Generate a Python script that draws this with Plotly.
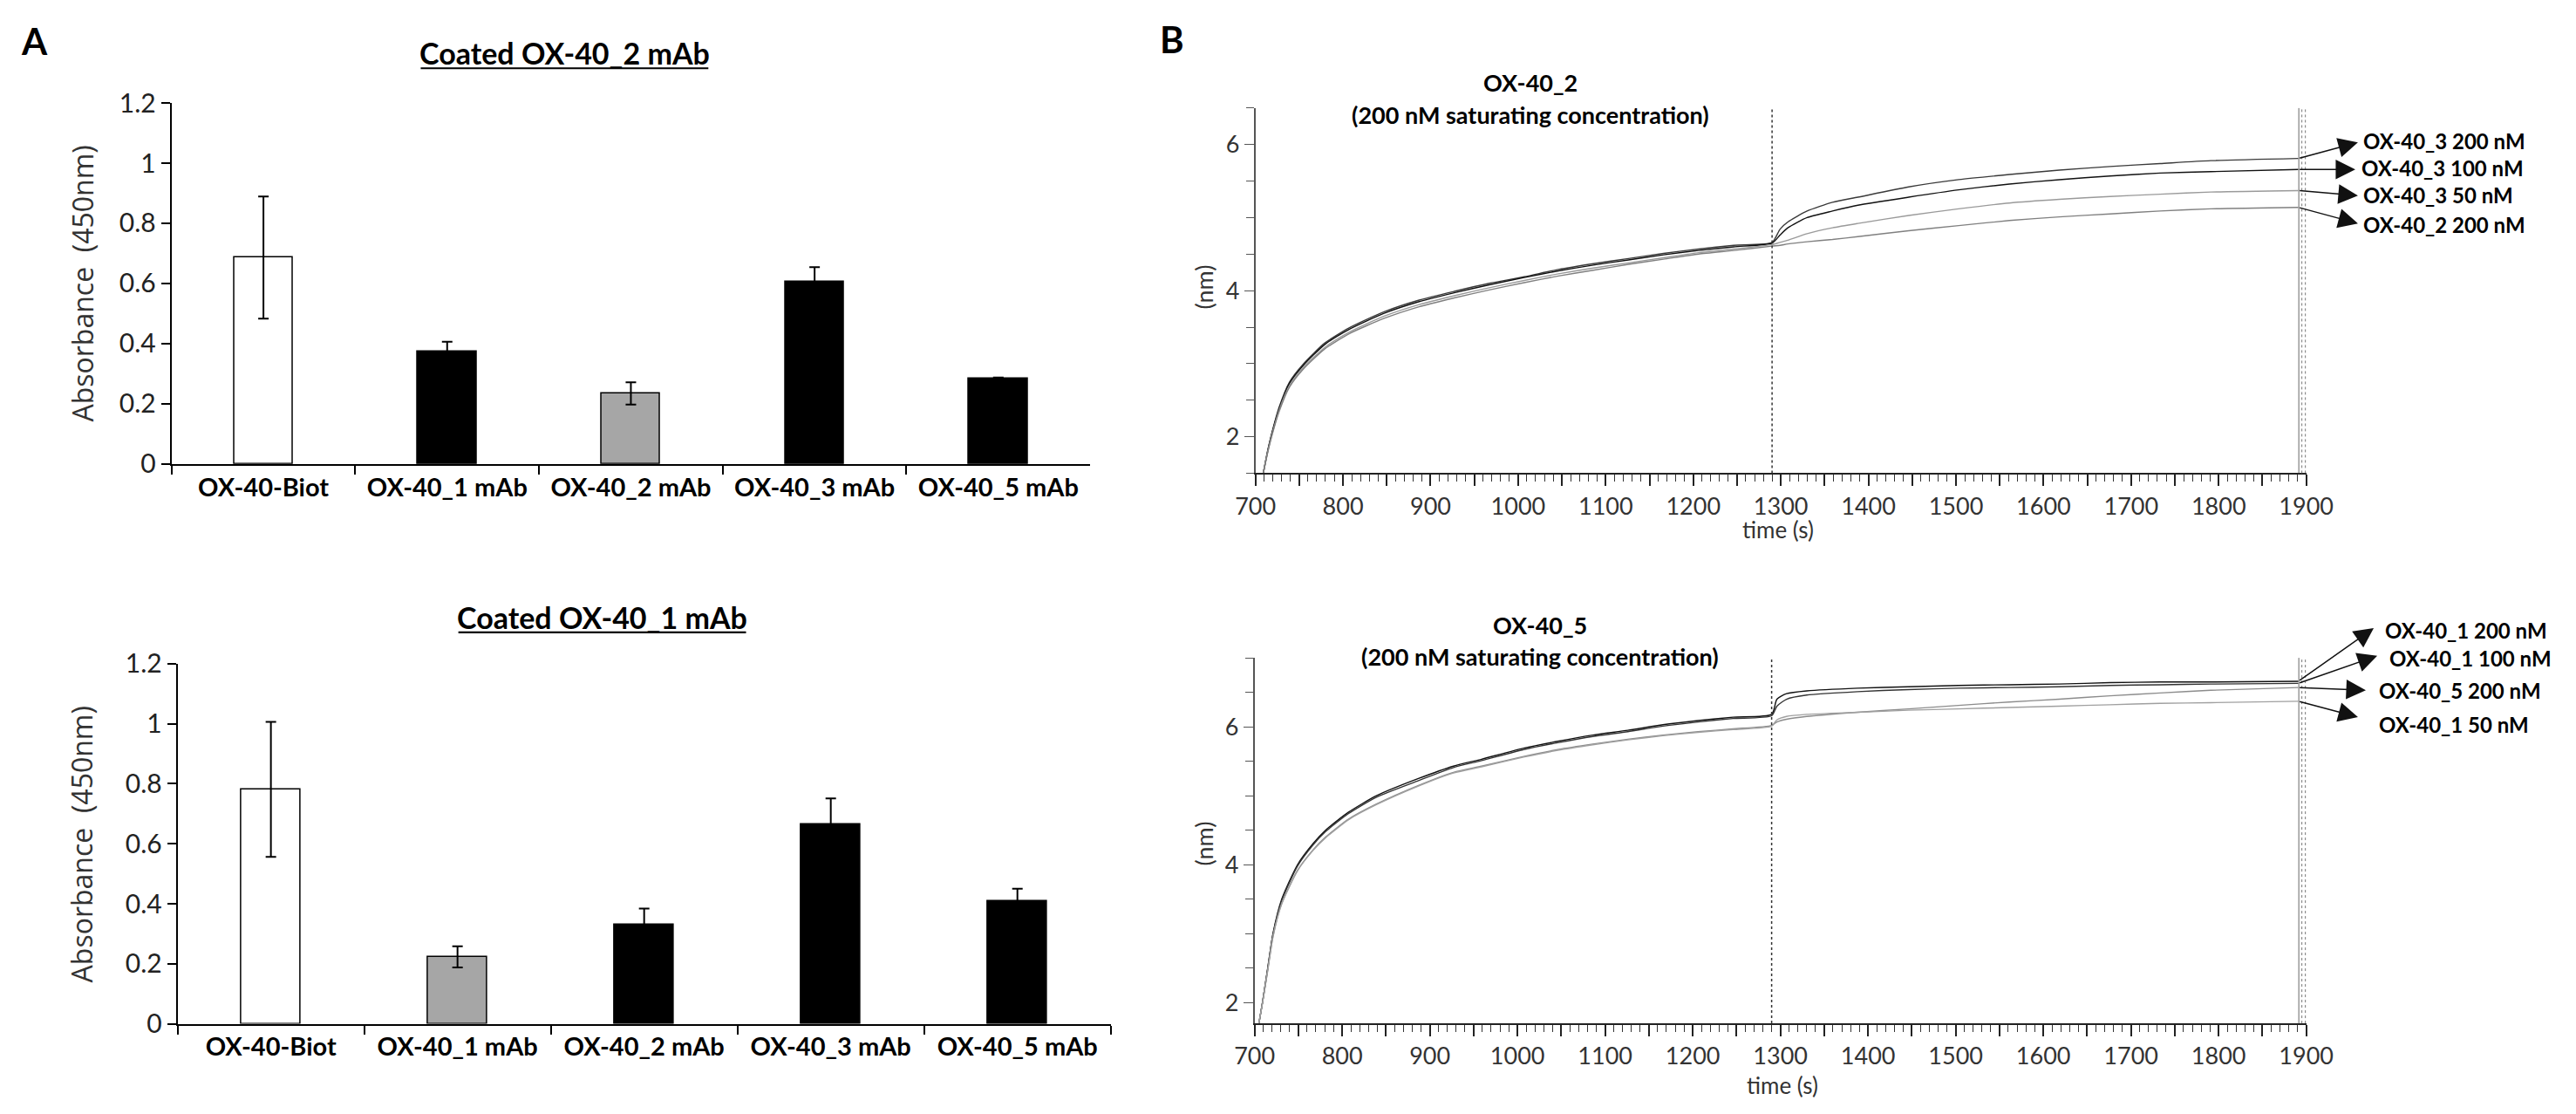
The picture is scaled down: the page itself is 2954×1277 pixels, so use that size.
import plotly.graph_objects as go

W, H = 2954, 1277

# ---------------- panel A : ELISA absorbance ----------------
cats = ['OX-40-Biot', 'OX-40_1 mAb', 'OX-40_2 mAb', 'OX-40_3 mAb', 'OX-40_5 mAb']

abs_coated2 = [0.686, 0.373, 0.234, 0.604, 0.283]
err_coated2 = [0.203, 0.033, 0.037, 0.050, 0.004]
colors_coated2 = ['white', 'black', '#a6a6a6', 'black', 'black']

abs_coated1 = [0.781, 0.223, 0.332, 0.664, 0.409]
err_coated1 = [0.225, 0.035, 0.052, 0.087, 0.041]
colors_coated1 = ['white', '#a6a6a6', 'black', 'black', 'black']

# ---------------- panel B : BLI sensorgrams ----------------
# top : OX-40_2 saturating, then second antibody
t_top = [709, 714, 719, 727, 739, 755, 779, 807, 847, 887, 927, 967, 1007, 1046,
         1086, 1126, 1166, 1206, 1246, 1290,
         1299, 1308, 1330, 1359, 1388, 1446, 1503, 1561, 1618, 1676, 1733, 1791, 1891]
ox3_200 = [1.50, 1.81, 2.06, 2.40, 2.75, 3.00, 3.28, 3.49, 3.71, 3.87, 3.99, 4.10, 4.19, 4.29,
           4.37, 4.44, 4.51, 4.57, 4.62, 4.66,
           4.84, 4.94, 5.09, 5.21, 5.28, 5.42, 5.52, 5.59, 5.65, 5.70, 5.74, 5.78, 5.81]
ox3_100 = [1.50, 1.80, 2.05, 2.38, 2.73, 2.98, 3.26, 3.47, 3.69, 3.85, 3.97, 4.08, 4.18, 4.27,
           4.35, 4.42, 4.49, 4.55, 4.60, 4.65,
           4.76, 4.86, 5.00, 5.09, 5.17, 5.28, 5.38, 5.46, 5.52, 5.57, 5.61, 5.63, 5.66]
ox3_50 = [1.50, 1.79, 2.03, 2.36, 2.70, 2.95, 3.22, 3.43, 3.65, 3.81, 3.93, 4.04, 4.14, 4.23,
          4.31, 4.38, 4.45, 4.52, 4.57, 4.63,
          4.66, 4.69, 4.78, 4.86, 4.92, 5.03, 5.12, 5.20, 5.25, 5.29, 5.32, 5.35, 5.37]
ox2_200 = [1.50, 1.78, 2.02, 2.34, 2.68, 2.93, 3.20, 3.41, 3.62, 3.78, 3.90, 4.01, 4.11, 4.20,
           4.28, 4.36, 4.43, 4.50, 4.55, 4.61,
           4.62, 4.64, 4.67, 4.70, 4.74, 4.82, 4.89, 4.96, 5.01, 5.05, 5.09, 5.12, 5.14]

# bottom : OX-40_5 saturating, then second antibody
t_bot = [705, 709, 715, 721, 731, 749, 767, 781, 807, 839, 887, 927, 959, 1007, 1046,
         1086, 1126, 1166, 1206, 1246, 1290,
         1296, 1307, 1330, 1388, 1446, 1503, 1561, 1618, 1676, 1733, 1791, 1891]
ox1_200 = [1.70, 2.00, 2.50, 3.00, 3.50, 4.00, 4.31, 4.50, 4.76, 5.00, 5.25, 5.43, 5.53, 5.69,
           5.79, 5.88, 5.95, 6.03, 6.09, 6.14, 6.18,
           6.40, 6.48, 6.52, 6.56, 6.58, 6.60, 6.61, 6.62, 6.64, 6.65, 6.65, 6.66]
ox1_100 = [1.70, 2.00, 2.49, 2.99, 3.48, 3.98, 4.29, 4.48, 4.74, 4.98, 5.22, 5.41, 5.51, 5.67,
           5.77, 5.86, 5.93, 6.01, 6.07, 6.12, 6.16,
           6.30, 6.40, 6.46, 6.51, 6.54, 6.56, 6.57, 6.58, 6.60, 6.61, 6.62, 6.63]
ox5_200 = [1.70, 1.99, 2.47, 2.96, 3.44, 3.92, 4.22, 4.40, 4.66, 4.88, 5.15, 5.34, 5.43, 5.57,
           5.67, 5.75, 5.82, 5.88, 5.93, 5.97, 6.02,
           6.07, 6.11, 6.15, 6.21, 6.26, 6.31, 6.36, 6.40, 6.45, 6.49, 6.53, 6.57]
ox1_50 = [1.70, 1.99, 2.46, 2.95, 3.43, 3.91, 4.21, 4.39, 4.65, 4.87, 5.14, 5.33, 5.42, 5.56,
          5.66, 5.74, 5.81, 5.87, 5.92, 5.96, 6.01,
          6.10, 6.15, 6.18, 6.21, 6.24, 6.26, 6.28, 6.30, 6.32, 6.34, 6.35, 6.37]

step_dashed = 1290
step_end = [1891.5, 1895, 1899]

top_series = [('OX-40_3 200 nM', ox3_200, '#3a3a3a'),
              ('OX-40_3 100 nM', ox3_100, '#111111'),
              ('OX-40_3 50 nM', ox3_50, '#9a9a9a'),
              ('OX-40_2 200 nM', ox2_200, '#808080')]
bot_series = [('OX-40_1 200 nM', ox1_200, '#111111'),
              ('OX-40_1 100 nM', ox1_100, '#333333'),
              ('OX-40_5 200 nM', ox5_200, '#8c8c8c'),
              ('OX-40_1 50 nM', ox1_50, '#a0a0a0')]

time_ticks = list(range(700, 1901, 50))
time_labels = [str(v) if v % 100 == 0 else '' for v in time_ticks]


def px(x):
    return x / W


def py(y):
    return 1 - y / H


FONT = 'Lato'
fig = go.Figure()

# bars
fig.add_trace(go.Bar(x=cats, y=abs_coated2, width=0.32, xaxis='x', yaxis='y',
                     marker=dict(color=colors_coated2, line=dict(color='black', width=1.5)),
                     error_y=dict(type='data', array=err_coated2, color='black', thickness=2, width=6)))
fig.add_trace(go.Bar(x=cats, y=abs_coated1, width=0.32, xaxis='x2', yaxis='y2',
                     marker=dict(color=colors_coated1, line=dict(color='black', width=1.5)),
                     error_y=dict(type='data', array=err_coated1, color='black', thickness=2, width=6)))

# sensorgrams
for name, vals, col in top_series:
    fig.add_trace(go.Scatter(x=t_top, y=vals, mode='lines', name=name, xaxis='x3', yaxis='y3',
                             line=dict(color=col, width=1.4, shape='spline', smoothing=0.6)))
for name, vals, col in bot_series:
    fig.add_trace(go.Scatter(x=t_bot, y=vals, mode='lines', name=name, xaxis='x4', yaxis='y4',
                             line=dict(color=col, width=1.4, shape='spline', smoothing=0.6)))

bar_x = dict(type='category', range=[-0.5, 4.5], showline=True, linecolor='black', linewidth=2,
             ticks='outside', tickson='boundaries', ticklen=10, tickwidth=2, tickcolor='black',
             tickfont=dict(family=FONT, size=29, color='black', weight='bold'), fixedrange=True)
bar_y = dict(range=[0, 1.2], dtick=0.2, showline=True, linecolor='black', linewidth=2,
             ticks='outside', ticklen=10, tickwidth=2, tickcolor='black', showgrid=False,
             zeroline=False, tickfont=dict(family=FONT, size=30, color='#222'))

line_x = dict(range=[700, 1900.5], tickvals=time_ticks, ticktext=time_labels, showline=True,
              linecolor='#222', linewidth=2, ticks='outside', ticklen=13, tickwidth=1.5,
              tickcolor='#222', showgrid=False, zeroline=False,
              minor=dict(dtick=10, tick0=700, ticklen=8, tickwidth=1.2, tickcolor='#333', ticks='outside'),
              tickfont=dict(family=FONT, size=27, color='#333'))
line_y = dict(dtick=2, tick0=0, showline=True, linecolor='#555', linewidth=1.5, ticks='outside',
              ticklen=11, tickwidth=1.2, tickcolor='#555', showgrid=False, zeroline=False,
              minor=dict(dtick=0.5, tick0=0, ticklen=9, tickwidth=1.2, tickcolor='#555', ticks='outside'),
              tickfont=dict(family=FONT, size=27, color='#333'))

fig.update_layout(
    width=W, height=H, margin=dict(l=0, r=0, t=0, b=0),
    paper_bgcolor='white', plot_bgcolor='white', showlegend=False, bargap=0,
    xaxis=dict(bar_x, domain=[px(177), px(1250)], anchor='y'),
    yaxis=dict(bar_y, domain=[py(527), py(101)], anchor='x'),
    xaxis2=dict(bar_x, domain=[px(184), px(1274)], anchor='y2'),
    yaxis2=dict(bar_y, domain=[py(1188), py(763)], anchor='x2'),
    xaxis3=dict(line_x, domain=[px(1443), px(2671)], anchor='y3'),
    yaxis3=dict(line_y, range=[1.5, 6.5], domain=[py(538), py(107)], anchor='x3'),
    xaxis4=dict(line_x, domain=[px(1442), px(2671)], anchor='y4'),
    yaxis4=dict(line_y, range=[1.7, 7.0], domain=[py(1187.5), py(756)], anchor='x4'),
)

# step boundary lines
for xa, ya in [('x3', 'y3'), ('x4', 'y4')]:
    fig.add_shape(type='line', xref=xa, yref=ya + ' domain', x0=step_dashed, x1=step_dashed,
                  y0=0, y1=1, line=dict(color='#333', width=1.5, dash='dot'))
    fig.add_shape(type='line', xref=xa, yref=ya + ' domain', x0=step_end[0], x1=step_end[0],
                  y0=0, y1=1, line=dict(color='#666', width=1))
    for xv in step_end[1:]:
        fig.add_shape(type='line', xref=xa, yref=ya + ' domain', x0=xv, x1=xv,
                      y0=0, y1=1, line=dict(color='#777', width=1, dash='dot'))


def text(x, y, s, size, bold=False, color='black', anchor='center', angle=0, family=FONT):
    fig.add_annotation(x=px(x), y=py(y), xref='paper', yref='paper', text=s, showarrow=False,
                       xanchor=anchor, yanchor='middle', textangle=angle,
                       font=dict(family=family, size=size, color=color,
                                 weight='bold' if bold else 'normal'))


def underline(x0, x1, y):
    fig.add_shape(type='line', xref='paper', yref='paper', x0=px(x0), x1=px(x1),
                  y0=py(y), y1=py(y), line=dict(color='black', width=2.2))


# panel letters and titles
text(17, 28, 'A', 42, bold=True)
text(1346, 26, 'B', 42, bold=True)
text(636, 42, 'Coated OX-40_2 mAb', 34, bold=True)
underline(468, 804, 60)
text(680, 708, 'Coated OX-40_1 mAb', 34, bold=True)
underline(512, 848, 726)
text(73, 314, 'Absorbance  (450nm)', 32, color='#333', angle=-90, family='Open Sans')
text(72, 976, 'Absorbance  (450nm)', 32, color='#333', angle=-90, family='Open Sans')

text(1764, 77, 'OX-40_2', 27, bold=True)
text(1764, 115, '(200 nM saturating concentration)', 27, bold=True)
text(1775, 717, 'OX-40_5', 27, bold=True)
text(1775, 754, '(200 nM saturating concentration)', 27, bold=True)
text(1383, 318, '(nm)', 27, color='#333', angle=-90)
text(1383, 975, '(nm)', 27, color='#333', angle=-90)
text(2054, 605, 'time (s)', 26, color='#333')
text(2059, 1261, 'time (s)', 26, color='#333')


def arrow(xa, ya, t_tail, v_tail, t_head, v_head):
    fig.add_annotation(x=t_head, y=v_head, xref=xa, yref=ya, ax=t_tail, ay=v_tail,
                       axref=xa, ayref=ya, text='', showarrow=True, arrowhead=2,
                       arrowsize=3, arrowwidth=1.5, arrowcolor='#111')


# arrow heads (time, value) and label anchor (px)
top_heads = [(1959, 6.03, 2735, 146), (1956, 5.66, 2733, 178),
             (1959, 5.30, 2735, 210), (1959, 4.92, 2735, 245)]
for (name, vals, col), (th, vh, lx, ly) in zip(top_series, top_heads):
    arrow('x3', 'y3', t_top[-1], vals[-1], th, vh)
    text(lx, ly, name, 24, bold=True, anchor='left')

bot_heads = [(1977, 7.43, 2760, 723), (1981, 7.03, 2766, 756),
             (1968, 6.53, 2753, 795), (1959, 6.14, 2753, 835)]
for (name, vals, col), (th, vh, lx, ly) in zip(bot_series, bot_heads):
    arrow('x4', 'y4', t_bot[-1], vals[-1], th, vh)
    text(lx, ly, name, 24, bold=True, anchor='left')

fig.write_html('out.html', config={'displayModeBar': False},
               post_script="document.body.style.margin='0';")
